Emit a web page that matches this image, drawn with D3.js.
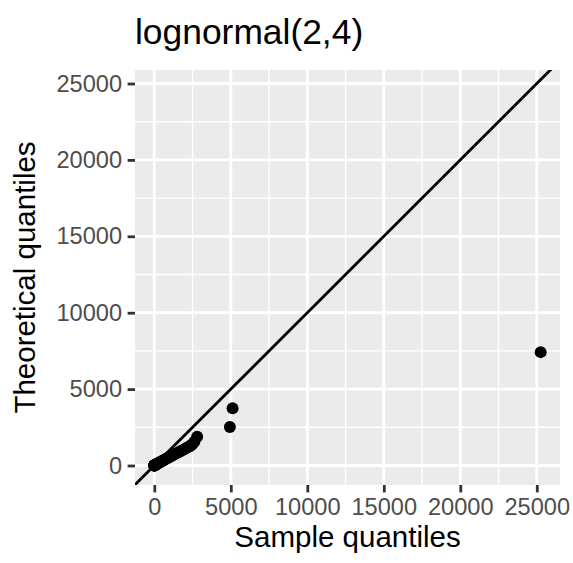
<!DOCTYPE html>
<html>
<head>
<meta charset="utf-8">
<script src="https://cdn.jsdelivr.net/npm/d3@7"></script>
<style>
	body { margin: 0; background: #FFFFFF; }
	svg { display: block; font-family: "Liberation Sans", Arial, sans-serif; }
</style>
</head>
<body>
<div id="area"></div>
<script>

/**
* DATA
* ====
* Sorted sample quantiles (x) against theoretical quantiles (y),
* read off the reference picture.
*/
var sample_quantiles = [1, 2, 4, 6, 9, 14, 20, 30, 45, 65, 90, 120, 160, 210, 270, 340, 420, 510,
	610, 720, 840, 970, 1110, 1260, 1420, 1590, 1770, 1960, 2150, 2330, 2470, 2620, 2800,
	4940, 5116, 25254];
var theoretical_quantiles = [1, 2, 3, 5, 7, 10, 14, 20, 28, 40, 55, 72, 95, 125, 160, 200, 245, 295,
	350, 410, 475, 545, 620, 700, 785, 875, 970, 1070, 1180, 1260, 1380, 1560, 1880,
	2520, 3750, 7420];
var x_ticks = [0, 5000, 10000, 15000, 20000, 25000];
var y_ticks = [0, 5000, 10000, 15000, 20000, 25000];
var x_minor = [2500, 7500, 12500, 17500, 22500];
var y_minor = [2500, 7500, 12500, 17500, 22500];
var y_limits = [-1276, 25884];

var title_text = 'lognormal(2,4)';
var x_title = 'Sample quantiles';
var y_title = 'Theoretical quantiles';


/**
* CANVAS
* ======
*/
var width = 573;
var height = 563;
var panel = { left: 135, right: 560, top: 70, bottom: 485 };

var svg = d3.select('#area').append('svg')
	.attr('width', width)
	.attr('height', height);

//x scale gets the usual 5% expansion of the data range
var x_extent = d3.extent(sample_quantiles);
var x_pad = (x_extent[1] - x_extent[0]) * 0.05;
var x = d3.scaleLinear()
	.domain([x_extent[0] - x_pad, x_extent[1] + x_pad])
	.range([panel.left, panel.right]);

var y = d3.scaleLinear()
	.domain(y_limits)
	.range([panel.bottom, panel.top]);

//Panel background
svg.append('rect')
	.attr('x', panel.left)
	.attr('y', panel.top)
	.attr('width', panel.right - panel.left)
	.attr('height', panel.bottom - panel.top)
	.attr('fill', '#EBEBEB');

//Grid lines, minor first
var grid = svg.append('g').attr('stroke', '#FFFFFF');

grid.selectAll('.xminor').data(x_minor).enter().append('line')
	.attr('x1', function(d){ return x(d); })
	.attr('x2', function(d){ return x(d); })
	.attr('y1', panel.top).attr('y2', panel.bottom)
	.attr('stroke-width', 1.4);

grid.selectAll('.yminor').data(y_minor).enter().append('line')
	.attr('y1', function(d){ return y(d); })
	.attr('y2', function(d){ return y(d); })
	.attr('x1', panel.left).attr('x2', panel.right)
	.attr('stroke-width', 1.4);

grid.selectAll('.xmajor').data(x_ticks).enter().append('line')
	.attr('x1', function(d){ return x(d); })
	.attr('x2', function(d){ return x(d); })
	.attr('y1', panel.top).attr('y2', panel.bottom)
	.attr('stroke-width', 2.8);

grid.selectAll('.ymajor').data(y_ticks).enter().append('line')
	.attr('y1', function(d){ return y(d); })
	.attr('y2', function(d){ return y(d); })
	.attr('x1', panel.left).attr('x2', panel.right)
	.attr('stroke-width', 2.8);

//Clip for the reference line
svg.append('clipPath').attr('id', 'panel-clip')
	.append('rect')
	.attr('x', panel.left)
	.attr('y', panel.top)
	.attr('width', panel.right - panel.left)
	.attr('height', panel.bottom - panel.top);

//Points
svg.append('g').selectAll('circle')
	.data(sample_quantiles)
	.enter().append('circle')
	.attr('cx', function(d){ return x(d); })
	.attr('cy', function(d, i){ return y(theoretical_quantiles[i]); })
	.attr('r', 6)
	.attr('fill', '#000000');

//y = x line across the panel
var line_lo = Math.min(x.domain()[0], y.domain()[0]);
var line_hi = Math.max(x.domain()[1], y.domain()[1]);
svg.append('line')
	.attr('clip-path', 'url(#panel-clip)')
	.attr('x1', x(line_lo)).attr('y1', y(line_lo))
	.attr('x2', x(line_hi)).attr('y2', y(line_hi))
	.attr('stroke', '#000000')
	.attr('stroke-width', 2.8);

//Axes
var x_axis = d3.axisBottom(x).tickValues(x_ticks).tickSize(7.4).tickPadding(5.5).tickFormat(d3.format('d'));
var y_axis = d3.axisLeft(y).tickValues(y_ticks).tickSize(7.4).tickPadding(5.5).tickFormat(d3.format('d'));

var gx = svg.append('g')
	.attr('transform', 'translate(0,' + panel.bottom + ')')
	.call(x_axis);
var gy = svg.append('g')
	.attr('transform', 'translate(' + panel.left + ',0)')
	.call(y_axis);

[gx, gy].forEach(function(g){
	g.select('.domain').remove();
	g.selectAll('.tick line').attr('stroke', '#333333').attr('stroke-width', 2.8);
	g.selectAll('.tick text')
		.attr('fill', '#4D4D4D')
		.attr('font-size', 23.6)
		.attr('font-family', '"Liberation Sans", Arial, sans-serif');
});

//Titles
svg.append('text')
	.attr('x', panel.left)
	.attr('y', 44)
	.attr('font-size', 35.4)
	.attr('fill', '#000000')
	.text(title_text);

svg.append('text')
	.attr('x', (panel.left + panel.right) / 2)
	.attr('y', 547)
	.attr('text-anchor', 'middle')
	.attr('font-size', 29.5)
	.attr('fill', '#000000')
	.text(x_title);

svg.append('text')
	.attr('transform', 'translate(35,' + (panel.top + panel.bottom) / 2 + ') rotate(-90)')
	.attr('text-anchor', 'middle')
	.attr('font-size', 29.5)
	.attr('fill', '#000000')
	.text(y_title);

</script>
</body>
</html>
